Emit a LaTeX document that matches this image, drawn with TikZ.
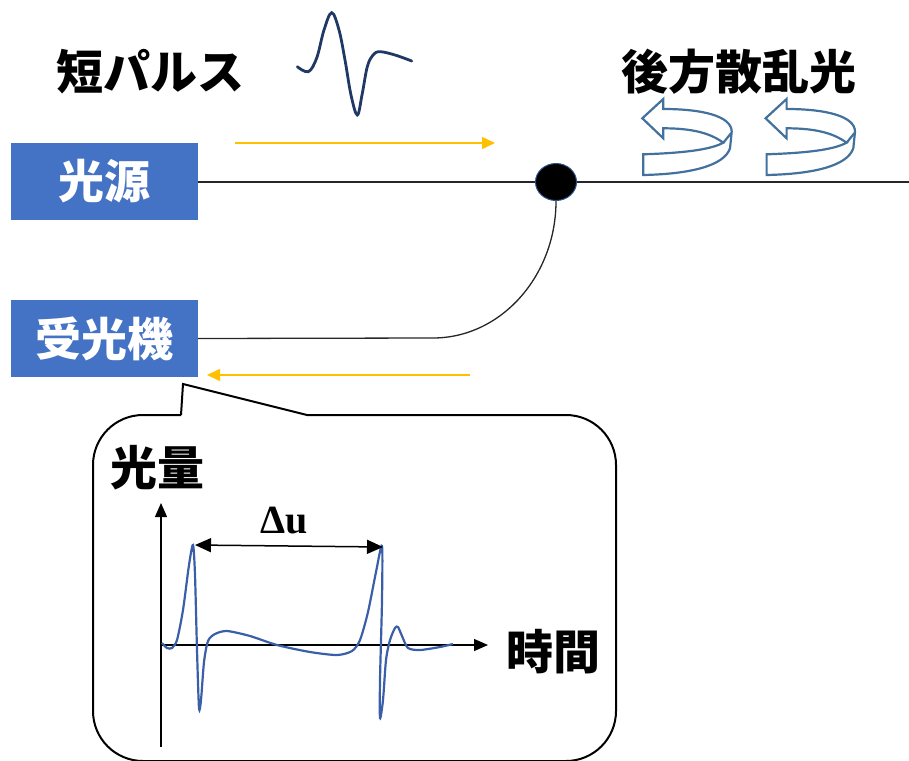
\documentclass[tikz,border=0pt]{standalone}
\usepackage{fontspec}
\newfontfamily\jp{Noto Sans CJK JP}
\newfontfamily\serifb{Liberation Serif}
\usetikzlibrary{arrows.meta,shapes.geometric}
\definecolor{boxblue}{HTML}{4472C4}
\definecolor{ambar}{HTML}{FFC000}
\definecolor{navy}{HTML}{203864}
\definecolor{arrblue}{HTML}{41719C}
\definecolor{sigblue}{HTML}{3A5FA8}
\definecolor{dotedge}{HTML}{2F528F}
\tikzset{
  jptext/.style={font=\jp\bfseries\fontsize{47}{52}\selectfont, inner sep=0pt},
  bluebox/.style={fill=boxblue, text=white, minimum width=187pt, minimum height=77pt, inner sep=0pt, font=\jp\bfseries\fontsize{46}{52}\selectfont},
  fiber/.style={line width=1.3pt, black!85},
  yellowarrow/.style={ambar, line width=1.5pt, -{Triangle[length=13pt,width=12pt]}},
  uturnline/.style={arrblue, line width=2.2pt, line join=miter},
  axis/.style={black, line width=1.2pt, -{Triangle[length=14pt,width=12pt]}},
  signal/.style={sigblue, line width=2.2pt},
  callout/.style={black, line width=2pt},
  dimarrow/.style={black, line width=1.5pt, {Triangle[length=16pt,width=14pt]}-{Triangle[length=16pt,width=14pt]}},
  uturn/.pic={
    \draw[uturnline] (642.3,118.3) -- (663.3,99) -- (663.3,109)
      .. controls (702,109) and (731.7,116) .. (731.7,131.7) -- (730,148.3)
      .. controls (724,166) and (690,174) .. (643.3,175) -- (643.3,154.3)
      .. controls (682,153) and (710,150) .. (723.3,142.7)
      .. controls (710,133) and (692,128.3) .. (663.3,128.3) -- (663.3,138.3) -- cycle;
    \draw[uturnline] (723.3,142.7) -- (731.2,133);
  }
}
\begin{document}
\begin{tikzpicture}[x=1pt,y=-1pt]
\useasboundingbox (0,0) rectangle (909,760);

% boxes
\node[bluebox] (src) at (104.5,181) {光源};
\node[bluebox] (rcv) at (104.5,338.5) {受光機};

% labels
\node[jptext] (pulse) at (150,72) {短パルス};
\node[jptext] (back) at (739,72) {後方散乱光};
\node[jptext] (qty) at (157,468) {光量};
\node[jptext] (time) at (553,652) {時間};
\node[font=\serifb\bfseries\fontsize{40}{44}\selectfont, inner sep=0pt] (du) at (284,521) {Δu};

% fiber and scattering point
\coordinate (fend) at (909,182);
\node[ellipse, fill=black, draw=dotedge, line width=1pt, minimum width=41pt, minimum height=37pt, inner sep=0pt] (dot) at (556,182) {};
\draw[fiber] (src.east |- fend) -- (dot.west);
\draw[fiber] (dot.east) -- (fend);
\coordinate (bend) at (433,338);
\draw[fiber] (dot.south) .. controls (556,276) and (501,338) .. (bend) -- (rcv.east);

% yellow arrows
\coordinate (ya1) at (235,143); \coordinate (ya2) at (495,143);
\draw[yellowarrow] (ya1) -- (ya2);
\coordinate (yb1) at (470,375); \coordinate (yb2) at (207,375);
\draw[yellowarrow] (yb1) -- (yb2);

% short pulse
\draw[navy, line width=2.8pt, line cap=round] plot[smooth, tension=0.6] coordinates {
 (297.3,66.7) (308.3,71.7) (316.7,58) (324,30) (331.7,12.7) (339,30) (345,60) (351,95) (357.3,115) (362,95) (367.3,66.7) (373,55) (380,51.7) (395,55) (411.7,61)};

% u-turn arrows
\pic at (0,0) {uturn};
\pic at (123.3,0) {uturn};

% callout
\draw[callout, rounded corners=50pt] (307,415) -- (616,415) -- (616,761) -- (93,761) -- (93,415) -- (181,415);
\draw[callout, line join=miter] (181,415) -- (183,384) -- (307,415);

% axes
\coordinate (o) at (161,645);
\coordinate (ytop) at (161,503);
\coordinate (ybot) at (161,747);
\coordinate (xend) at (488,645);
\draw[axis] (ybot) -- (ytop);
\draw[axis] (o) -- (xend);

% signal
\draw[signal] plot[smooth, tension=0.45] coordinates {
 (162,643) (167,648) (172,648) (177,640) (183,610) (189,565) (193,545) (195,575) (197,650) (199,708) (201,700) (204,662) (208,641) (215,634) (227,631) (250,636) (277,645) (310,652) (337,655) (352,651) (360,640) (368,612) (376,572) (382,546) (382,600) (380,680) (380,718) (383,700) (386,660) (390,640) (395,628) (398,627) (402,636) (408,648) (420,650) (440,647) (453,644)};

% delta u
\coordinate (d1) at (195,545);
\coordinate (d2) at (383,547);
\draw[dimarrow] (d1) -- (d2);
\end{tikzpicture}
\end{document}
